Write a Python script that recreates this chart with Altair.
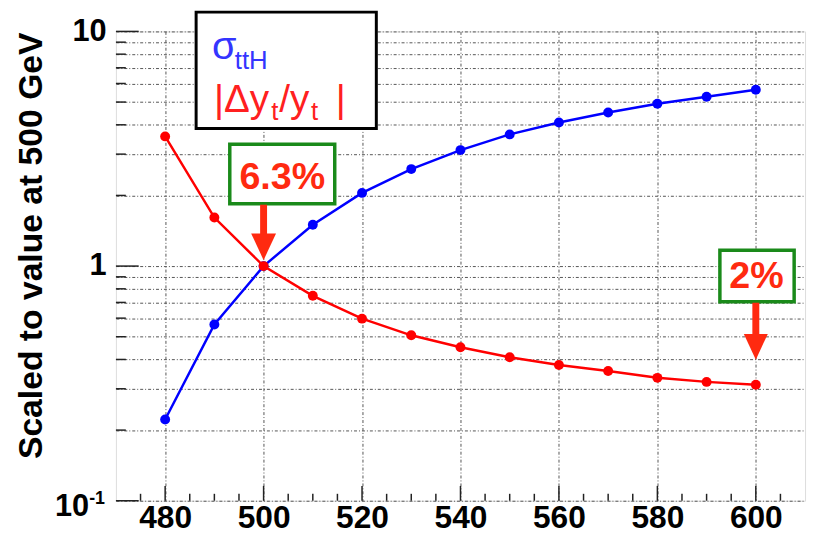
import altair as alt
import pandas as pd

# ---- data ----
energy = [480, 490, 500, 510, 520, 530, 540, 550, 560, 570, 580, 590, 600]
sigma_tth = [0.222, 0.564, 1.0, 1.50, 2.05, 2.59, 3.12, 3.64, 4.09, 4.51, 4.92, 5.27, 5.64]
dyt_over_yt = [3.57, 1.61, 1.0, 0.747, 0.597, 0.507, 0.451, 0.409, 0.379, 0.357, 0.334, 0.321, 0.312]

x_labels = [480, 500, 520, 540, 560, 580, 600]
x_minor = [475, 485, 490, 495, 505, 510, 515, 525, 530, 535, 545, 550, 555,
           565, 570, 575, 585, 590, 595, 605]
y_major = [0.1, 1, 10]
y_minor = [0.2, 0.3, 0.4, 0.5, 0.6, 0.7, 0.8, 0.9, 2, 3, 4, 5, 6, 7, 8, 9]
y_grid = y_major + y_minor

W, H = 696, 474
FONT = "Liberation Sans"
RED = "#ff0000"
BLUE = "#0000ff"
ARED = "#ff2a10"
GREEN = "#1a8a1a"
GRID_DASH = [3, 2, 1, 2]

df_s = pd.DataFrame({"E": energy, "v": sigma_tth})
df_y = pd.DataFrame({"E": energy, "v": dyt_over_yt})
one = pd.DataFrame({"a": [0]})

xs = alt.Scale(domain=[470, 610], nice=False, zero=False)
ys = alt.Scale(type="log", domain=[0.1, 10], nice=False)

x_axis = alt.Axis(values=x_labels, grid=True, ticks=False, domain=False,
                  gridDash=GRID_DASH, gridColor="#555", gridWidth=1,
                  labelFont=FONT, labelFontSize=32, labelFontWeight="bold",
                  labelColor="black", labelPadding=2, title=None,
                  labelOverlap=False)
y_axis = alt.Axis(values=y_grid, grid=True, ticks=False, domain=False,
                  gridDash=GRID_DASH, gridColor="#555", gridWidth=1,
                  labelFont=FONT, labelFontSize=31, labelFontWeight="bold",
                  labelColor="black", labelPadding=10, labelOverlap=False,
                  labelBound=False,
                  labelExpr="datum.value == 10 ? '10' : (datum.value == 1 ? '1' : '')",
                  title="Scaled to value at 500 GeV", titleFont=FONT,
                  titleFontSize=34, titleFontWeight="bold", titleColor="black",
                  titleAngle=-90, titleX=-85, titleY=216, titleAlign="center",
                  titleBaseline="middle")

base_axes = alt.Chart(df_s).mark_point(opacity=0).encode(
    x=alt.X("E:Q", scale=xs, axis=x_axis),
    y=alt.Y("v:Q", scale=ys, axis=y_axis),
)

# inward ticks
ytick_major = alt.Chart(pd.DataFrame({"t": y_major})).mark_rule(color="#222", strokeWidth=1.5).encode(
    y=alt.Y("t:Q", scale=ys), x=alt.value(0), x2=alt.value(23))
ytick_minor = alt.Chart(pd.DataFrame({"t": y_minor})).mark_rule(color="#222", strokeWidth=1.5).encode(
    y=alt.Y("t:Q", scale=ys), x=alt.value(0), x2=alt.value(10))
xtick_major = alt.Chart(pd.DataFrame({"t": x_labels})).mark_rule(color="#222", strokeWidth=1.5).encode(
    x=alt.X("t:Q", scale=xs), y=alt.value(H), y2=alt.value(H - 15))
xtick_minor = alt.Chart(pd.DataFrame({"t": x_minor})).mark_rule(color="#222", strokeWidth=1.5).encode(
    x=alt.X("t:Q", scale=xs), y=alt.value(H), y2=alt.value(H - 7))

def series(df, color):
    ln = alt.Chart(df).mark_line(color=color, strokeWidth=2.5).encode(
        x=alt.X("E:Q", scale=xs), y=alt.Y("v:Q", scale=ys))
    pt = alt.Chart(df).mark_circle(color=color, size=100, opacity=1).encode(
        x=alt.X("E:Q", scale=xs), y=alt.Y("v:Q", scale=ys))
    return ln + pt

blue = series(df_s, BLUE)
red = series(df_y, RED)

def txt(s, x, y, size, color, weight="normal", align="left"):
    return alt.Chart(one).mark_text(text=s, font=FONT, fontSize=size, color=color,
                                    fontWeight=weight, align=align,
                                    baseline="alphabetic").encode(
        x=alt.value(x), y=alt.value(y))

# the 10^-1 label, drawn as base + superscript
ylab_low = txt("10", -27, 489, 31, "black", "bold", "right") + txt("-1", -27, 477, 18, "black", "bold", "left")

# legend box
leg_box = alt.Chart(one).mark_rect(fill="white", stroke="black", strokeWidth=3).encode(
    x=alt.value(81), x2=alt.value(263), y=alt.value(-19.5), y2=alt.value(98))

LBLUE = "#3434ff"
LRED = "#ff2020"
legend = (leg_box
          + txt("σ", 97, 28, 40, LBLUE)
          + txt("ttH", 120, 38, 26, LBLUE)
          + txt("|Δy", 99, 81, 39, LRED)
          + txt("t", 157, 89, 26, LRED)
          + txt("/y", 165, 81, 39, LRED)
          + txt("t", 197, 89, 26, LRED)
          + txt("|", 222, 81, 39, LRED))

# annotation 6.3%
HEAD = "M-0.93,-1L0.93,-1L0,1Z"
box1 = alt.Chart(one).mark_rect(fill="white", stroke=GREEN, strokeWidth=3.5).encode(
    x=alt.value(115), x2=alt.value(221), y=alt.value(114), y2=alt.value(174))
t1 = txt("6.3%", 168, 159, 38, ARED, "bold", "center")
shaft1 = alt.Chart(one).mark_rule(color=ARED, strokeWidth=7).encode(
    x=alt.datum(500, scale=xs), y=alt.value(175), y2=alt.value(206))
head1 = alt.Chart(one).mark_point(shape=HEAD, size=729, filled=True, color=ARED,
                                  opacity=1, strokeWidth=0).encode(
    x=alt.datum(500, scale=xs), y=alt.value(217.5))

# annotation 2%
box2 = alt.Chart(one).mark_rect(fill="white", stroke=GREEN, strokeWidth=3.5).encode(
    x=alt.value(610), x2=alt.value(685), y=alt.value(221), y2=alt.value(273))
t2 = txt("2%", 647, 259, 38, ARED, "bold", "center")
shaft2 = alt.Chart(one).mark_rule(color=ARED, strokeWidth=7).encode(
    x=alt.datum(600, scale=xs), y=alt.value(274), y2=alt.value(308))
head2 = alt.Chart(one).mark_point(shape=HEAD, size=676, filled=True, color=ARED,
                                  opacity=1, strokeWidth=0).encode(
    x=alt.datum(600, scale=xs), y=alt.value(318.5))

chart = alt.layer(
    base_axes, ytick_major, ytick_minor, xtick_major, xtick_minor, ylab_low,
    blue, red, legend, box1, t1, shaft1, head1, box2, t2, shaft2, head2
).properties(
    width=W, height=H,
    autosize=alt.AutoSizeParams(type="none"),
    padding={"left": 109, "top": 21, "right": 4, "bottom": 37},
).configure_view(stroke="#222", strokeWidth=1.5).configure(background="white")

chart.save("out.html", embed_options={"renderer": "svg", "actions": False})
